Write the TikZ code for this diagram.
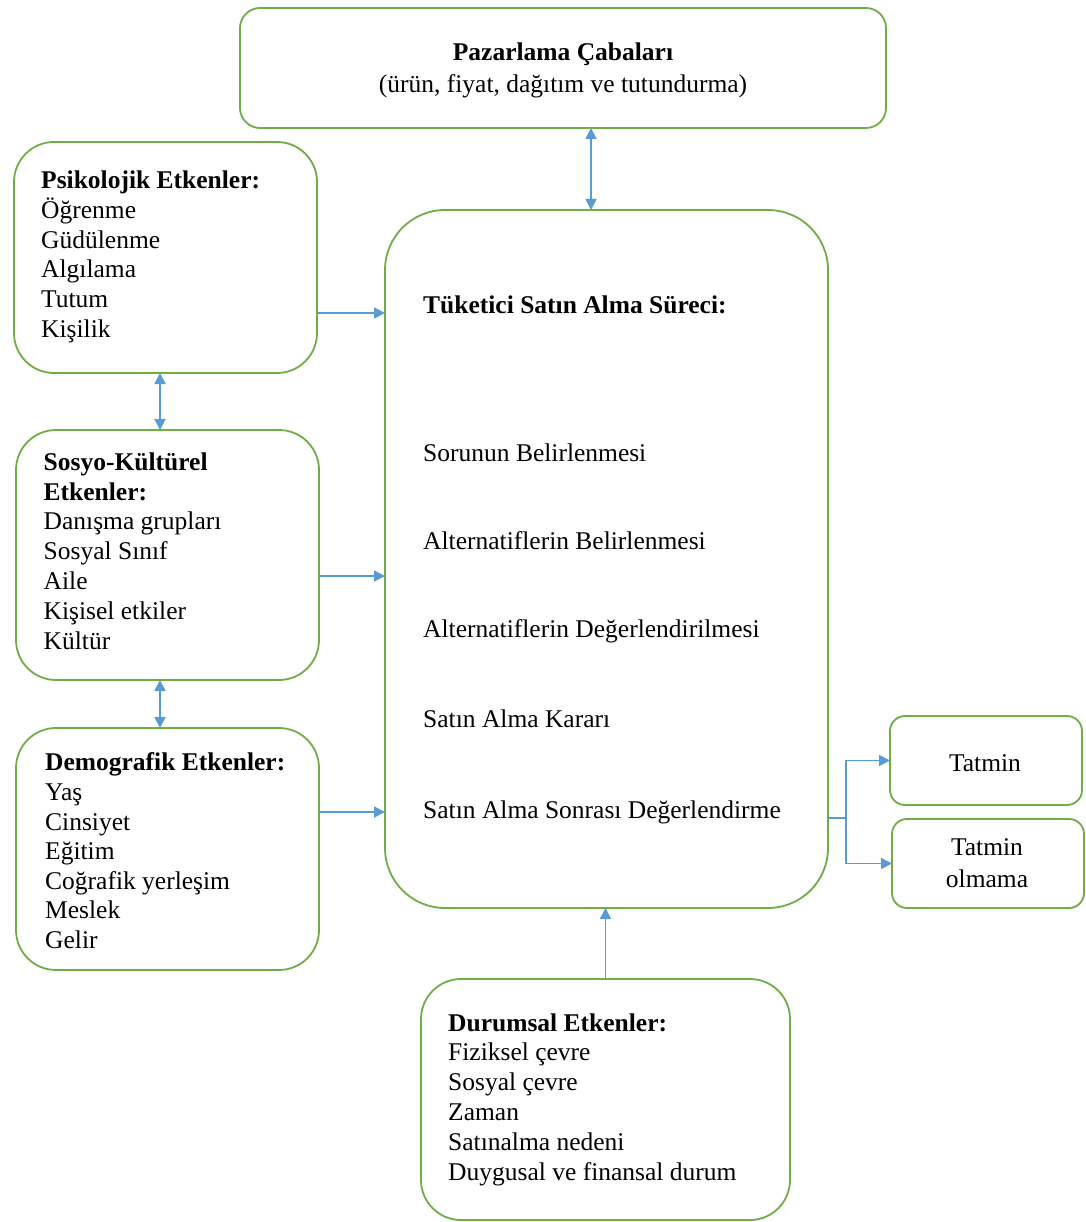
\documentclass[tikz,border=0pt]{standalone}
\usepackage{fontspec}
\setmainfont{Liberation Serif}
\usetikzlibrary{arrows.meta}
\definecolor{grn}{HTML}{70AD47}
\definecolor{blu}{HTML}{5B9BD5}
\begin{document}
\begin{tikzpicture}[x=1pt,y=-1pt,
  box/.style={draw=grn,line width=1.8pt,inner sep=0pt,outer sep=0pt,fill=white},
  txt/.style={anchor=base west,align=left,inner sep=0pt,font=\fontsize{25.5}{29.6}\selectfont},
  ctxt/.style={anchor=base,align=center,inner sep=0pt,font=\fontsize{25.5}{32}\selectfont},
  arr/.style={draw=blu,line width=1.8pt,-{Triangle[length=11pt,width=11pt]}},
  darr/.style={draw=blu,line width=1.8pt,{Triangle[length=11pt,width=11pt]}-{Triangle[length=11pt,width=11pt]}},
  ln/.style={draw=blu,line width=1.8pt}]
\useasboundingbox (0,0) rectangle (1085,1222);
% boxes
\node[box,rounded corners=20pt,minimum width=646pt,minimum height=120pt] (top) at (563,68) {};
\node[box,rounded corners=40pt,minimum width=303pt,minimum height=231pt] (psik) at (165.5,257.5) {};
\node[box,rounded corners=40pt,minimum width=303pt,minimum height=250pt] (sosyo) at (167.5,555) {};
\node[box,rounded corners=40pt,minimum width=303pt,minimum height=242pt] (demo) at (167.5,849) {};
\node[box,rounded corners=60pt,minimum width=443pt,minimum height=698pt] (main) at (606.5,559) {};
\node[box,rounded corners=15pt,minimum width=192pt,minimum height=89pt] (tatmin) at (986,760.5) {};
\node[box,rounded corners=15pt,minimum width=192pt,minimum height=89pt] (tolm) at (988,863.5) {};
\node[box,rounded corners=40pt,minimum width=369pt,minimum height=241pt] (durum) at (605.5,1099.5) {};
% texts (base anchor = baseline of last line)
\node[ctxt] (ttop) at (563,93) {\textbf{Pazarlama Çabaları}\\(ürün, fiyat, dağıtım ve tutundurma)};
\node[txt] (tpsik) at (41,337) {\textbf{Psikolojik Etkenler:}\\Öğrenme\\Güdülenme\\Algılama\\Tutum\\Kişilik};
\node[txt,font=\fontsize{25.5}{29.9}\selectfont] (tsosyo) at (43.5,649.5) {\textbf{Sosyo-Kültürel}\\\textbf{Etkenler:}\\Danışma grupları\\Sosyal Sınıf\\Aile\\Kişisel etkiler\\Kültür};
\node[txt] (tdemo) at (45,948.5) {\textbf{Demografik Etkenler:}\\Yaş\\Cinsiyet\\Eğitim\\Coğrafik yerleşim\\Meslek\\Gelir};
\node[txt,font=\fontsize{25.5}{29.8}\selectfont] (tdurum) at (448,1180) {\textbf{Durumsal Etkenler:}\\Fiziksel çevre\\Sosyal çevre\\Zaman\\Satınalma nedeni\\Duygusal ve finansal durum};
\node[txt] (m0) at (423,313) {\textbf{Tüketici Satın Alma Süreci:}};
\node[txt] (m1) at (423,461) {Sorunun Belirlenmesi};
\node[txt] (m2) at (423,549) {Alternatiflerin Belirlenmesi};
\node[txt] (m3) at (423,637) {Alternatiflerin Değerlendirilmesi};
\node[txt] (m4) at (423,727) {Satın Alma Kararı};
\node[txt] (m5) at (423,818) {Satın Alma Sonrası Değerlendirme};
\node[ctxt] (ttat) at (985,771) {Tatmin};
\node[ctxt] (ttolm) at (987,887) {Tatmin\\olmama};
% connectors
\draw[darr] (top.south -| 591,0) -- (main.north -| 591,0);
\draw[arr] (psik.east |- 0,313) -- (main.west |- 0,313);
\draw[arr] (sosyo.east |- 0,576) -- (main.west |- 0,576);
\draw[arr] (demo.east |- 0,812) -- (main.west |- 0,812);
\draw[darr] (psik.south -| 160,0) -- (sosyo.north -| 160,0);
\draw[darr] (sosyo.south -| 160,0) -- (demo.north -| 160,0);
\draw[arr] (durum.north) -- (durum.north |- main.south);
\coordinate (split) at (846,818);
\draw[ln] (main.east |- split) -- (split);
\draw[arr] (split) |- (tatmin.west);
\draw[arr] (split) |- (tolm.west);
\end{tikzpicture}
\end{document}
